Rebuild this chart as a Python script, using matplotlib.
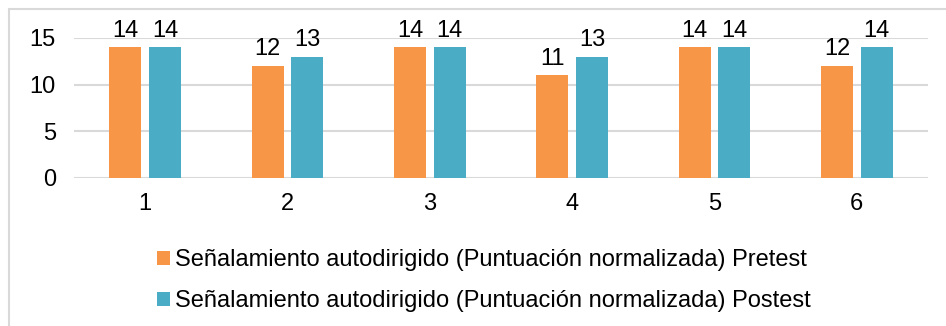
import matplotlib.pyplot as plt
import matplotlib.patches as mpatches
import numpy as np

plt.rcParams['font.family'] = ['Liberation Sans', 'DejaVu Sans']

# Datos
sujetos = ['1', '2', '3', '4', '5', '6']
pretest = [14, 12, 14, 11, 14, 12]
postest = [14, 13, 14, 13, 14, 14]
etiquetas = ['Señalamiento autodirigido (Puntuación normalizada) Pretest',
             'Señalamiento autodirigido (Puntuación normalizada) Postest']

naranja = '#F79646'
azul = '#4BACC6'
tam = 17

W, H = 946, 326
fig = plt.figure(figsize=(W / 100, H / 100), dpi=100)

# marco exterior (solo se ven borde izquierdo y superior)
fig.patches.append(mpatches.Rectangle((8.5 / W, -0.2), 1.2, 1 - 8.5 / H + 0.2,
                                      transform=fig.transFigure, fill=False,
                                      edgecolor='#D9D9D9', linewidth=1.5))

ax = fig.add_axes([74 / W, (H - 178) / H, (928 - 74) / W, 140 / H])

x = np.arange(len(sujetos))
ancho = 0.225
desp = 0.14
b1 = ax.bar(x - desp, pretest, ancho, color=naranja, label=etiquetas[0])
b2 = ax.bar(x + desp, postest, ancho, color=azul, label=etiquetas[1])

for barras in (b1, b2):
    for b in barras:
        ax.annotate(str(int(b.get_height())), (b.get_x() + b.get_width() / 2, b.get_height()),
                    xytext=(0, 4), textcoords='offset points', ha='center', va='bottom',
                    fontsize=tam, clip_on=False)

ax.set_xlim(-0.5, len(sujetos) - 0.5)
ax.set_ylim(0, 15)
ax.set_yticks([0, 5, 10, 15])
ax.set_xticks(x)
ax.set_xticklabels(sujetos)
ax.tick_params(axis='both', length=0, labelsize=tam)
ax.tick_params(axis='y', pad=13)
ax.tick_params(axis='x', pad=11)
ax.grid(axis='y', color='#D9D9D9', linewidth=1.5)
ax.set_axisbelow(True)
for s in ax.spines.values():
    s.set_visible(False)

fig.legend(handles=[b1, b2], loc='upper left', bbox_to_anchor=(148 / W, 1 - 240 / H),
           frameon=False, fontsize=tam, handlelength=0.55, handleheight=0.55,
           handletextpad=0.2, labelspacing=0.8, borderaxespad=0)

fig.savefig('out.png', dpi=100)
